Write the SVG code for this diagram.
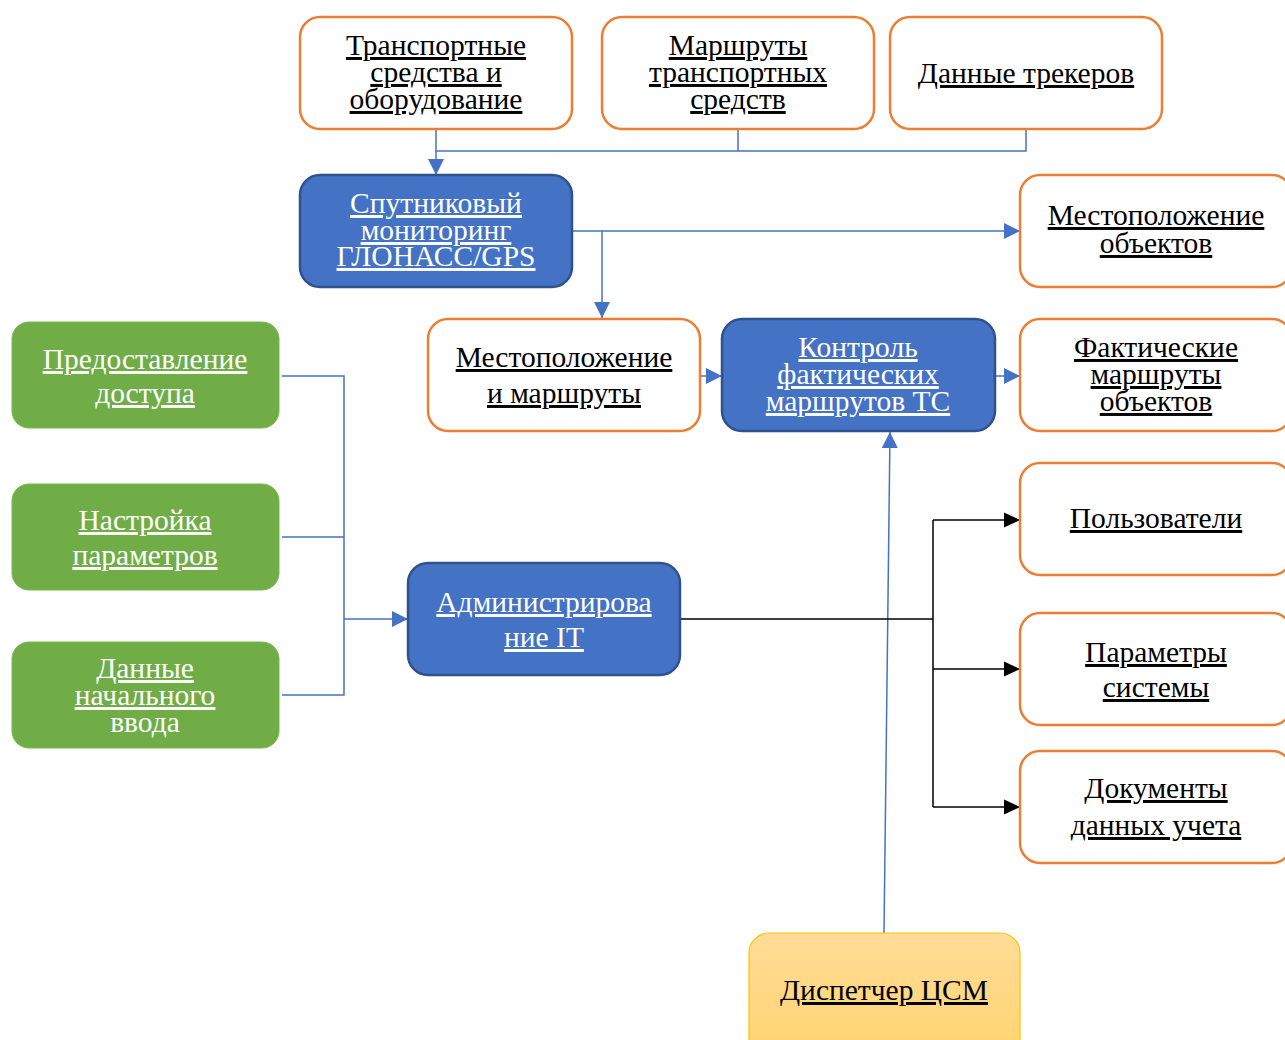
<svg xmlns="http://www.w3.org/2000/svg" width="1285" height="1040" viewBox="0 0 1285 1040">
<defs>
<style>
.o{fill:#fff;stroke:#ED7D31;stroke-width:2.5}
.b{fill:#4472C4;stroke:#2F528F;stroke-width:2.5}
.g{fill:#70AD47;stroke:#7BB653;stroke-width:1}
.y{fill:url(#yg);stroke:#FFC000;stroke-width:1.2}
text{font-family:"Liberation Serif","Times New Roman",serif;font-size:29.5px;text-anchor:middle}
.dk{fill:#000}
.wt{fill:#fff}
.u{text-decoration:underline}
.cb{fill:none;stroke:#4472C4;stroke-width:1.5}
.ck{fill:none;stroke:#000;stroke-width:1.5}
</style>
<linearGradient id="yg" x1="0" y1="0" x2="0" y2="1">
<stop offset="0" stop-color="#FFDC98"/>
<stop offset="1" stop-color="#FFD46E"/>
</linearGradient>
<marker id="ab" markerUnits="userSpaceOnUse" markerWidth="16" markerHeight="16" viewBox="0 0 16 16" refX="16" refY="8" orient="auto">
<path d="M0,0 L16,8 L0,16 z" fill="#4472C4"/>
</marker>
<marker id="ak" markerUnits="userSpaceOnUse" markerWidth="16" markerHeight="16" viewBox="0 0 16 16" refX="16" refY="8" orient="auto">
<path d="M0,0.5 L16,8 L0,15.5 z" fill="#000"/>
</marker>
</defs>
<rect width="1285" height="1040" fill="#fff"/>

<g id="connectors">
<path class="cb" d="M436,129 V151 H1026 V129 M738,129 V151"/>
<path class="cb" d="M436,151 V175" marker-end="url(#ab)"/>
<path class="cb" d="M573,231 H1020" marker-end="url(#ab)"/>
<path class="cb" d="M602,231 V318" marker-end="url(#ab)"/>
<path class="cb" d="M700,376 H722" marker-end="url(#ab)"/>
<path class="cb" d="M995,376 H1020" marker-end="url(#ab)"/>
<path class="cb" d="M282,376 H344 V695 H282 M282,537 H344"/>
<path class="cb" d="M344,619 H408" marker-end="url(#ab)"/>
<path class="cb" d="M884,933 L890,432" marker-end="url(#ab)"/>
<path class="ck" d="M680,619 H933 M933,520 V807"/>
<path class="ck" d="M933,520 H1020" marker-end="url(#ak)"/>
<path class="ck" d="M933,669 H1020" marker-end="url(#ak)"/>
<path class="ck" d="M933,807 H1020" marker-end="url(#ak)"/>
</g>

<g id="n-transport">
<rect class="o" x="300" y="17" width="272" height="112" rx="20"/>
<text class="dk u" x="436" y="55">Транспортные</text>
<text class="dk u" x="436" y="82">средства и</text>
<text class="dk u" x="436" y="109">оборудование</text>
</g>
<g id="n-routes">
<rect class="o" x="602" y="17" width="272" height="112" rx="20"/>
<text class="dk u" x="738" y="55">Маршруты</text>
<text class="dk u" x="738" y="82">транспортных</text>
<text class="dk u" x="738" y="109">средств</text>
</g>
<g id="n-trackers">
<rect class="o" x="890" y="17" width="272" height="112" rx="20"/>
<text class="dk u" x="1026" y="83">Данные трекеров</text>
</g>
<g id="n-sat">
<rect class="b" x="300" y="175" width="272" height="112" rx="20"/>
<text class="wt u" x="436" y="213">Спутниковый</text>
<text class="wt u" x="436" y="240">мониторинг</text>
<text class="wt u" x="436" y="266">ГЛОНАСС/GPS</text>
</g>
<g id="n-objloc">
<rect class="o" x="1020" y="175" width="272" height="112" rx="20"/>
<text class="dk u" x="1156" y="225">Местоположение</text>
<text class="dk u" x="1156" y="253">объектов</text>
</g>
<g id="n-locroutes">
<rect class="o" x="428" y="319" width="272" height="112" rx="20"/>
<text class="dk u" x="564" y="367">Местоположение</text>
<text class="dk u" x="564" y="403">и маршруты</text>
</g>
<g id="n-control">
<rect class="b" x="722" y="319" width="273" height="112" rx="20"/>
<text class="wt u" x="858" y="357">Контроль</text>
<text class="wt u" x="858" y="384">фактических</text>
<text class="wt u" x="858" y="411">маршрутов ТС</text>
</g>
<g id="n-actual">
<rect class="o" x="1020" y="319" width="272" height="112" rx="20"/>
<text class="dk u" x="1156" y="357">Фактические</text>
<text class="dk u" x="1156" y="384">маршруты</text>
<text class="dk u" x="1156" y="411">объектов</text>
</g>
<g id="n-access">
<rect class="g" x="12" y="322" width="267" height="106" rx="17"/>
<text class="wt u" x="145" y="369">Предоставление</text>
<text class="wt u" x="145" y="403">доступа</text>
</g>
<g id="n-settings">
<rect class="g" x="12" y="484" width="267" height="106" rx="17"/>
<text class="wt u" x="145" y="530">Настройка</text>
<text class="wt u" x="145" y="565">параметров</text>
</g>
<g id="n-input">
<rect class="g" x="12" y="642" width="267" height="106" rx="17"/>
<text class="wt u" x="145" y="678">Данные</text>
<text class="wt u" x="145" y="705">начального</text>
<text class="wt" x="145" y="732">ввода</text>
</g>
<g id="n-admin">
<rect class="b" x="408" y="563" width="272" height="112" rx="20"/>
<text class="wt u" x="544" y="612">Администрирова</text>
<text class="wt u" x="544" y="647">ние IT</text>
</g>
<g id="n-users">
<rect class="o" x="1020" y="463" width="272" height="112" rx="20"/>
<text class="dk u" x="1156" y="528">Пользователи</text>
</g>
<g id="n-params">
<rect class="o" x="1020" y="613" width="272" height="112" rx="20"/>
<text class="dk u" x="1156" y="662">Параметры</text>
<text class="dk u" x="1156" y="697">системы</text>
</g>
<g id="n-docs">
<rect class="o" x="1020" y="751" width="272" height="112" rx="20"/>
<text class="dk u" x="1156" y="798">Документы</text>
<text class="dk u" x="1156" y="835">данных учета</text>
</g>
<g id="n-dispatcher">
<rect class="y" x="749" y="933" width="271" height="125" rx="20"/>
<text class="dk u" x="884" y="1000">Диспетчер ЦСМ</text>
</g>
</svg>
